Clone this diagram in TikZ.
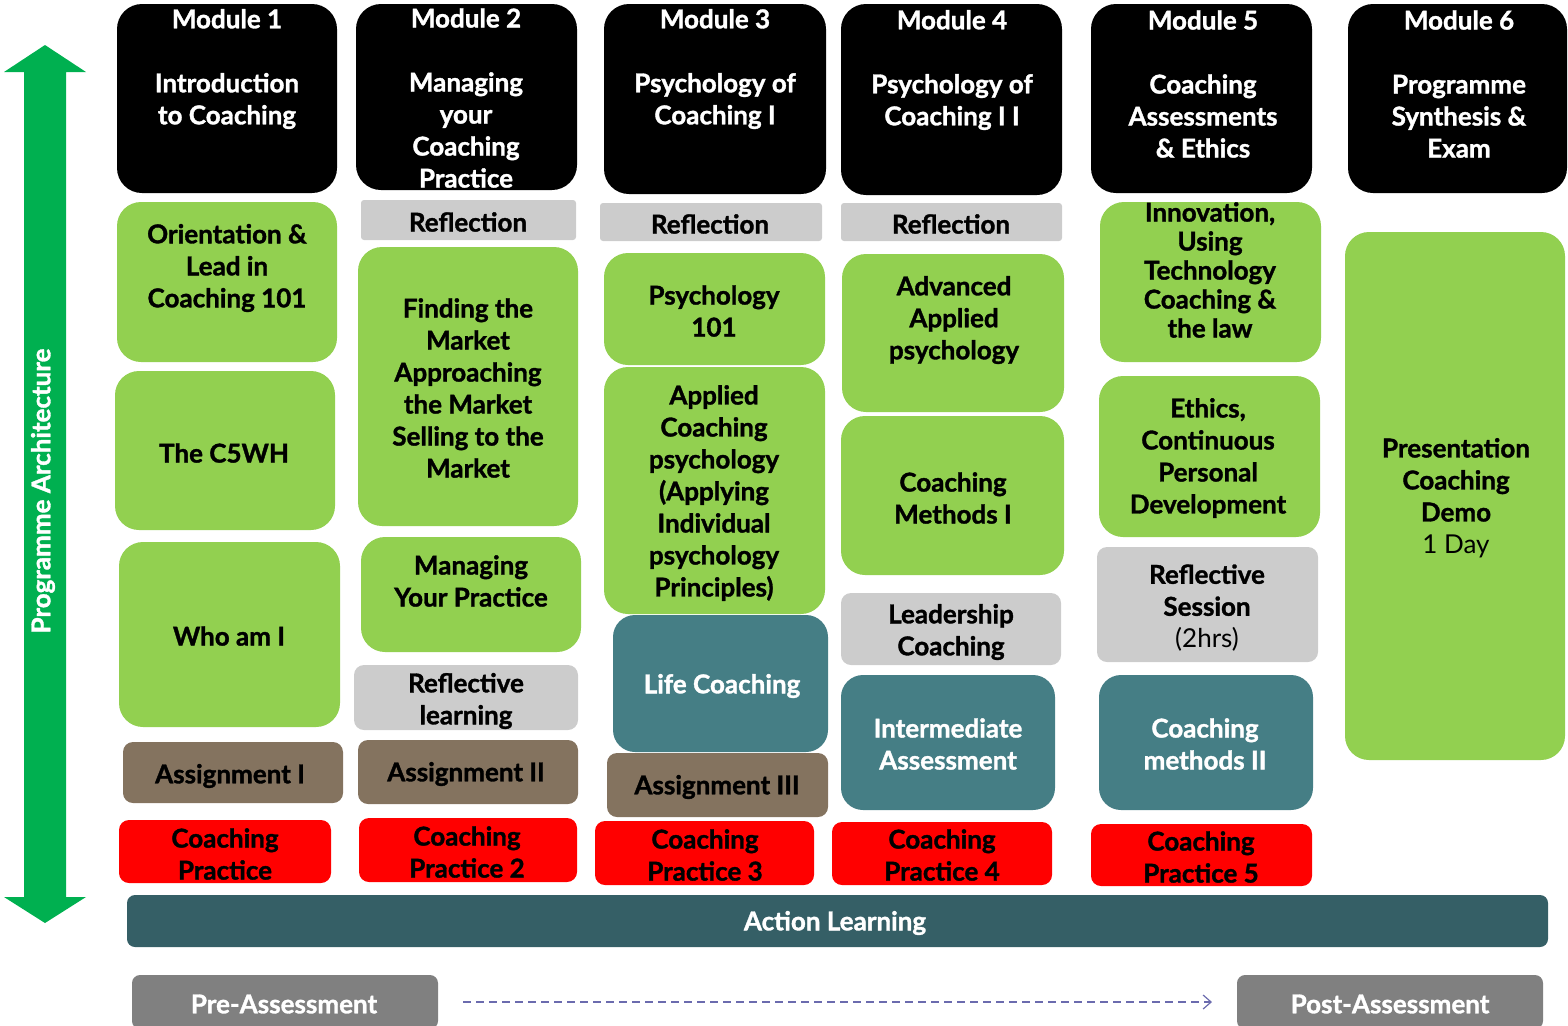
\documentclass[tikz,border=0pt]{standalone}
\usepackage{fontspec}
\setmainfont{Lato}[BoldFeatures={FakeBold=1.3}]
\usetikzlibrary{fit,arrows.meta}
\definecolor{cgreen}{HTML}{92D050}
\definecolor{cgray}{HTML}{CCCCCC}
\definecolor{cbrown}{HTML}{84735F}
\definecolor{cred}{HTML}{FF0000}
\definecolor{cteal}{HTML}{457E85}
\definecolor{cdark}{HTML}{355F66}
\definecolor{cpre}{HTML}{808080}
\definecolor{carrow}{HTML}{00B050}
\definecolor{cdash}{HTML}{6B6BAE}
\tikzset{
  bx/.style={inner sep=0pt, outer sep=0pt, draw=none},
  modbox/.style={bx, fill=black, rounded corners=12.5pt},
  grnbox/.style={bx, fill=cgreen, rounded corners=12pt},
  refbox/.style={bx, fill=cgray, rounded corners=1.5pt},
  grybox/.style={bx, fill=cgray, rounded corners=5pt},
  brnbox/.style={bx, fill=cbrown, rounded corners=5pt},
  redbox/.style={bx, fill=cred, rounded corners=5pt},
  tealbox/.style={bx, fill=cteal, rounded corners=11pt},
  darkbox/.style={bx, fill=cdark, rounded corners=4pt},
  prebox/.style={bx, fill=cpre, rounded corners=4pt},
  txt/.style={align=center, inner sep=0pt, yshift=-1pt, text=black, font=\fontsize{13}{16}\selectfont\bfseries},
  wtxt/.style={txt, text=white},
  tight/.style={font=\fontsize{13}{14.5}\selectfont\bfseries},
}
\begin{document}
\begin{tikzpicture}[x=0.5pt,y=-0.5pt]
\clip (0,0) rectangle (1568,1025);
\useasboundingbox (0,0) rectangle (1568,1025);

% side arrow
\fill[carrow] (45,45) -- (86,72) -- (66,72) -- (66,897) -- (86,897) -- (45,923) -- (4,897) -- (24,897) -- (24,72) -- (4,72) -- cycle;
\node[wtxt, rotate=90, yshift=1pt, xshift=-1pt] (arch) at (45,487) {Programme Architecture};

% column 1
\node[modbox, fit={(117,4) (337,193)}] (m1) {};
\node[wtxt] (m1t) at (227,67) {Module 1\\[16pt]Introduction\\to Coaching};
\node[grnbox, fit={(117,202) (337,362)}] (orient) {};
\node[txt] (orientt) at (227,266) {Orientation \&\\Lead in\\Coaching 101};
\node[grnbox, fit={(115,371) (335,530)}] (c5wh) {};
\node[txt] (c5wht) at (224,451) {The C5WH};
\node[grnbox, fit={(119,542) (340,727)}] (who) {};
\node[txt] (whot) at (229,634) {Who am I};
\node[brnbox, fit={(123,742) (343,803)}] (as1) {};
\node[txt] (as1t) at (230,774) {Assignment I};
\node[redbox, fit={(119,820) (331,883)}] (cp1) {};
\node[txt] (cp1t) at (225,852) {Coaching\\Practice};

% column 2
\node[modbox, fit={(356,4) (577,190)}] (m2) {};
\node[wtxt] (m2t) at (466,96) {Module 2\\[16pt]Managing\\your\\Coaching\\Practice};
\node[refbox, fit={(361,200) (576,240)}] (ref2) {};
\node[txt] (ref2t) at (468,220) {Reflection};
\node[grnbox, fit={(358,247) (578,526)}] (find) {};
\node[txt] (findt) at (468,386) {Finding the\\Market\\Approaching\\the Market\\Selling to the\\Market};
\node[grnbox, fit={(361,537) (581,652)}] (manage) {};
\node[txt] (managet) at (471,579) {Managing\\Your Practice};
\node[grybox, fit={(354,665) (578,730)}] (refl) {};
\node[txt] (reflt) at (466,699) {Reflective\\learning};
\node[brnbox, fit={(358,740) (578,804)}] (as2) {};
\node[txt] (as2t) at (466,772) {Assignment II};
\node[redbox, fit={(359,818) (577,882)}] (cp2) {};
\node[txt] (cp2t) at (467,850) {Coaching\\Practice 2};

% column 3
\node[modbox, fit={(604,4) (826,194)}] (m3) {};
\node[wtxt] (m3t) at (715,67) {Module 3\\[16pt]Psychology of\\Coaching I};
\node[refbox, fit={(600,203) (822,241)}] (ref3) {};
\node[txt] (ref3t) at (710,222) {Reflection};
\node[grnbox, fit={(604,253) (825,365)}] (psy) {};
\node[txt] (psyt) at (714,309) {Psychology\\101};
\node[grnbox, fit={(604,367) (825,614)}] (applied) {};
\node[txt] (appliedt) at (714,491) {Applied\\Coaching\\psychology\\(Applying\\Individual\\psychology\\Principles)};
\node[tealbox, fit={(613,615) (828,752)}] (life) {};
\node[wtxt] (lifet) at (722,684) {Life Coaching};
\node[brnbox, fit={(607,753) (828,817)}] (as3) {};
\node[txt] (as3t) at (717,785) {Assignment III};
\node[redbox, fit={(595,821) (814,885)}] (cp3) {};
\node[txt] (cp3t) at (705,853) {Coaching\\Practice 3};

% column 4
\node[modbox, fit={(841,4) (1062,195)}] (m4) {};
\node[wtxt] (m4t) at (952,68) {Module 4\\[16pt]Psychology of\\Coaching I I};
\node[refbox, fit={(841,203) (1062,241)}] (ref4) {};
\node[txt] (ref4t) at (951,222) {Reflection};
\node[grnbox, fit={(842,254) (1064,412)}] (adv) {};
\node[txt] (advt) at (954,318) {Advanced\\Applied\\psychology};
\node[grnbox, fit={(841,416) (1064,575)}] (meth1) {};
\node[txt] (meth1t) at (953,496) {Coaching\\Methods I};
\node[grybox, fit={(841,593) (1061,665)}] (lead) {};
\node[txt] (leadt) at (951,630) {Leadership\\Coaching};
\node[tealbox, fit={(841,675) (1055,810)}] (inter) {};
\node[wtxt] (intert) at (948,742) {Intermediate\\Assessment};
\node[redbox, fit={(832,822) (1052,885)}] (cp4) {};
\node[txt] (cp4t) at (942,853) {Coaching\\Practice 4};

% column 5
\node[modbox, fit={(1091,4) (1312,193)}] (m5) {};
\node[wtxt] (m5t) at (1203,82) {Module 5\\[16pt]Coaching\\Assessments\\\& Ethics};
\node[grnbox, fit={(1100,202) (1321,362)}] (innov) {};
\node[txt, tight] (innovt) at (1210,268) {Innovation,\\Using\\Technology\\Coaching \&\\the law};
\node[grnbox, fit={(1099,376) (1320,537)}] (ethics) {};
\node[txt] (ethicst) at (1208,456) {Ethics,\\Continuous\\Personal\\Development};
\node[grybox, fit={(1097,547) (1318,662)}] (rsess) {};
\node[txt] (rsesst) at (1207,606) {Reflective\\Session\\{\mdseries (2hrs)}};
\node[tealbox, fit={(1099,675) (1313,810)}] (meth2) {};
\node[wtxt] (meth2t) at (1205,742) {Coaching\\methods II};
\node[redbox, fit={(1091,824) (1312,886)}] (cp5) {};
\node[txt] (cp5t) at (1201,855) {Coaching\\Practice 5};

% column 6
\node[modbox, fit={(1348,4) (1567,193)}] (m6) {};
\node[wtxt] (m6t) at (1459,82) {Module 6\\[16pt]Programme\\Synthesis \&\\Exam};
\node[grnbox, fit={(1345,232) (1565,760)}] (pres) {};
\node[txt] (prest) at (1456,496) {Presentation\\Coaching\\Demo\\{\mdseries 1 Day}};

% bottom
\node[darkbox, fit={(127,895) (1548,947)}] (action) {};
\node[wtxt] (actiont) at (835,921) {Action Learning};
\node[prebox, fit={(132,975) (438,1029)}] (pre) {};
\node[wtxt] (pret) at (284,1002) {Pre-Assessment};
\node[prebox, fit={(1237,975) (1543,1029)}] (post) {};
\node[wtxt] (postt) at (1390,1002) {Post-Assessment};
\draw[cdash, line width=0.6pt, dash pattern=on 4pt off 2.5pt, shorten <=12.5pt, shorten >=12.5pt,
  -{Straight Barb[length=4pt,width=7pt]}] (pre.east) -- (post.west);
\end{tikzpicture}
\end{document}
